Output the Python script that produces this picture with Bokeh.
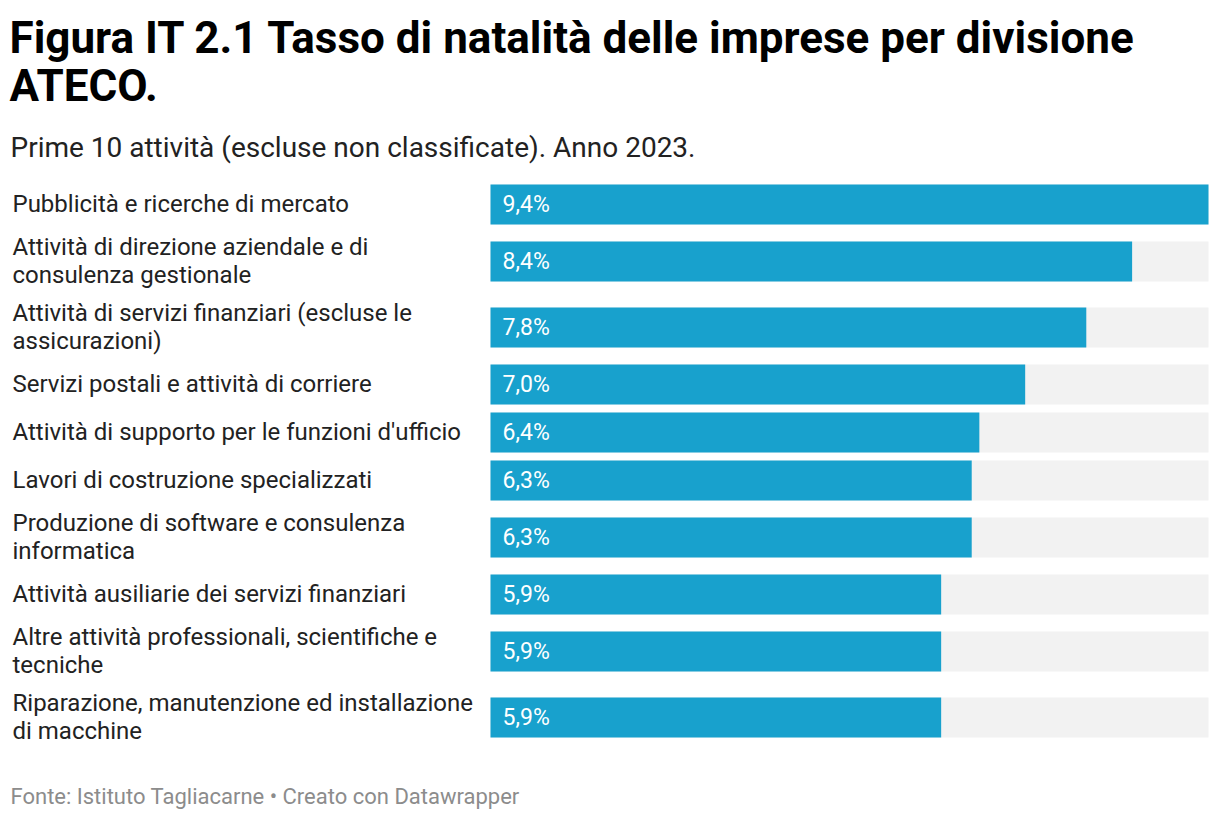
from bokeh.plotting import figure
from bokeh.models import Range1d, ColumnDataSource, Label
from bokeh.core.properties import value
from bokeh.embed import file_html
from bokeh.resources import INLINE

# ---------------- data ----------------
categories = [
    "Pubblicità e ricerche di mercato",
    "Attività di direzione aziendale e di\nconsulenza gestionale",
    "Attività di servizi finanziari (escluse le\nassicurazioni)",
    "Servizi postali e attività di corriere",
    "Attività di supporto per le funzioni d'ufficio",
    "Lavori di costruzione specializzati",
    "Produzione di software e consulenza\ninformatica",
    "Attività ausiliarie dei servizi finanziari",
    "Altre attività professionali, scientifiche e\ntecniche",
    "Riparazione, manutenzione ed installazione\ndi macchine",
]
values = [9.4, 8.4, 7.8, 7.0, 6.4, 6.3, 6.3, 5.9, 5.9, 5.9]

title_lines = ["Figura IT 2.1 Tasso di natalità delle imprese per divisione", "ATECO."]
subtitle = "Prime 10 attività (escluse non classificate). Anno 2023."
footer = "Fonte: Istituto Tagliacarne • Creato con Datawrapper"

# ---------------- layout ----------------
W, H = 1212, 812
BAR_LEFT_PX, BAR_RIGHT_PX = 490, 1208
scale = (BAR_RIGHT_PX - BAR_LEFT_PX) / max(values)


def px2x(px):
    return (px - BAR_LEFT_PX) / scale


FONT = value("Roboto")
BLUE = "#18a1cd"
GREY_BG = "#f2f2f2"
TEXT = "#222222"

# row centers (page pixel y) computed from label line counts
LINE_H = 29
BAR_H = 40
GAP = 8
centers = []
top = 184
for c in categories:
    n = c.count("\n") + 1
    h = max(BAR_H, LINE_H * n)
    centers.append(top + h / 2)
    top += h + GAP

p = figure(width=W, height=H, output_backend="svg", toolbar_location=None,
           x_range=Range1d(px2x(0), px2x(W)), y_range=Range1d(H, 0),
           min_border=0, min_border_left=0, min_border_right=0,
           min_border_top=0, min_border_bottom=0)
p.axis.visible = False
p.grid.visible = False
p.outline_line_color = None
p.background_fill_color = "white"
p.border_fill_color = "white"

src = ColumnDataSource(dict(
    y=centers,
    v=values,
    full=[max(values)] * len(values),
    lab=[f"{v:.1f}".replace(".", ",") + "%" for v in values],
))

p.hbar(y="y", height=BAR_H, left=0, right="full", source=src,
       fill_color=GREY_BG, line_color=None)
p.hbar(y="y", height=BAR_H, left=0, right="v", source=src,
       fill_color=BLUE, line_color=None)
p.text(x=px2x(502), y="y", text="lab", source=src, text_font=FONT,
       text_font_size="23px", text_color="white", text_baseline="middle",
       text_align="left")

# category labels (split into lines)
lx, ly, lt = [], [], []
for c, yc in zip(categories, centers):
    lines = c.split("\n")
    n = len(lines)
    for i, ln in enumerate(lines):
        lx.append(px2x(12))
        ly.append(yc + (i - (n - 1) / 2) * 28 - 1)
        lt.append(ln)
p.text(x="x", y="y", text="t", source=ColumnDataSource(dict(x=lx, y=ly, t=lt)),
       text_font=FONT, text_font_size="24px", text_color=TEXT,
       text_baseline="middle", text_align="left")


# titles as screen-space labels (screen y from bottom of figure)
def add_label(text, px, py, size, color, style="normal"):
    p.add_layout(Label(x=px, y=H - py, x_units="screen", y_units="screen",
                       text=text, text_font="Roboto", text_font_size=size,
                       text_color=color, text_font_style=style,
                       text_baseline="middle", text_align="left"))


add_label(title_lines[0], 9, 37, "44px", "#000000", "bold")
add_label(title_lines[1], 9, 85, "44px", "#000000", "bold")
add_label(subtitle, 10, 147, "28px", TEXT)
add_label(footer, 10, 796, "22px", "#8c8c8c")

open("out.html", "w").write(file_html(p, INLINE))
